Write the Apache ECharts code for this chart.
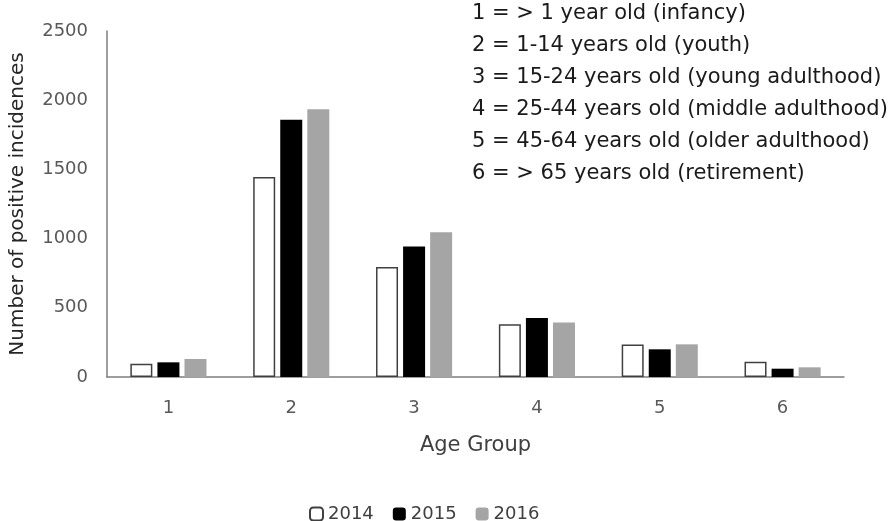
<!DOCTYPE html>
<html>
<head>
<meta charset="utf-8">
<script src="https://cdn.jsdelivr.net/npm/echarts@6/dist/echarts.min.js"></script>
<style>html,body{margin:0;padding:0;background:#fff}#c{width:894px;height:521px}</style>
</head>
<body>
<div id="c"></div>
<script>
var categories = ['1', '2', '3', '4', '5', '6'];
var values2014 = [95, 1445, 795, 382, 234, 111];
var values2015 = [106, 1858, 943, 427, 200, 60];
var values2016 = [130, 1935, 1045, 393, 236, 70];
var seriesNames = ['2014', '2015', '2016'];
var yTicks = [0, 500, 1000, 1500, 2000, 2500];
var notes = [
  '1 = > 1 year old (infancy)',
  '2 = 1-14 years old (youth)',
  '3 = 15-24 years old (young adulthood)',
  '4 = 25-44 years old (middle adulthood)',
  '5 = 45-64 years old (older adulthood)',
  '6 = > 65 years old (retirement)'
];
var FONT = '"DejaVu Sans", sans-serif';
var chart = echarts.init(document.getElementById('c'), null, {renderer: 'canvas'});
chart.setOption({
  animation: false,
  backgroundColor: '#ffffff',
  textStyle: {fontFamily: FONT},
  grid: {left: 101, right: 50, top: 31, bottom: 144},
  legend: {
    data: seriesNames,
    top: 500,
    left: 304,
    itemWidth: 13,
    itemHeight: 13,
    itemGap: 19,
    textStyle: {fontSize: 18, color: '#404040', fontFamily: FONT}
  },
  xAxis: {
    type: 'category',
    data: categories,
    name: 'Age Group',
    nameLocation: 'middle',
    nameGap: 58,
    nameTextStyle: {fontSize: 21, color: '#404040', fontFamily: FONT},
    axisLine: {lineStyle: {color: '#7f7f7f', width: 1.5}},
    axisTick: {show: false},
    axisLabel: {fontSize: 18, color: '#595959', margin: 22, fontFamily: FONT}
  },
  yAxis: {
    type: 'value',
    min: yTicks[0],
    max: yTicks[yTicks.length - 1],
    interval: 500,
    name: 'Number of positive incidences',
    nameLocation: 'middle',
    nameGap: 79,
    nameTextStyle: {fontSize: 20, color: '#262626', fontFamily: FONT},
    axisLine: {show: true, lineStyle: {color: '#7f7f7f', width: 1.5}},
    axisTick: {show: false},
    splitLine: {show: false},
    axisLabel: {fontSize: 18, color: '#595959', margin: 19, fontFamily: FONT,
      formatter: function (v) { return String(v); }}
  },
  series: [
    {name: seriesNames[0], type: 'bar', data: values2014, barWidth: 22, barGap: '23%',
     itemStyle: {color: '#ffffff', borderColor: '#404040', borderWidth: 1.5}},
    {name: seriesNames[1], type: 'bar', data: values2015, barWidth: 22, barGap: '23%',
     itemStyle: {color: '#000000'}},
    {name: seriesNames[2], type: 'bar', data: values2016, barWidth: 22, barGap: '23%',
     itemStyle: {color: '#a5a5a5'}}
  ],
  graphic: notes.map(function (t, i) {
    return {
      type: 'text', left: 472, top: 3 + i * 32,
      style: {text: t, fontSize: 21, fill: '#1a1a1a', fontFamily: FONT}
    };
  })
});
</script>
</body>
</html>
